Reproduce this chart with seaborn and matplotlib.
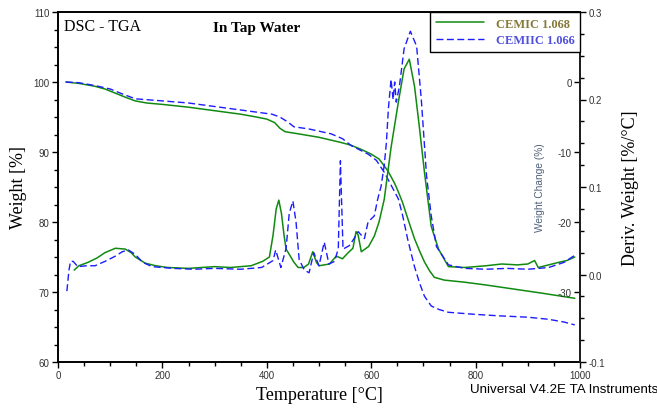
import numpy as np
import pandas as pd
import matplotlib
matplotlib.use("Agg")
import matplotlib.pyplot as plt
import seaborn as sns

# ---------------- data ----------------
series_names = ["CEMIC 1.068", "CEMIIC 1.066"]

# TGA (weight %) - CEMIC 1.068 (green)
tga_g_T = [15, 40, 70, 90, 110, 130, 148, 170, 200, 250, 300, 350, 380, 400, 415, 425, 435,
           460, 500, 540, 560, 580, 600, 615, 632, 645, 652, 660, 670, 683, 693, 702, 712,
           721, 740, 779, 820, 875, 930, 990]
tga_g_W = [100.0, 99.8, 99.4, 99.0, 98.4, 97.8, 97.3, 97.0, 96.8, 96.4, 95.9, 95.4, 95.0, 94.7,
           94.2, 93.4, 92.9, 92.6, 92.1, 91.4, 91.0, 90.4, 89.7, 89.0, 87.3, 85.5, 84.3, 82.8,
           80.5, 77.6, 75.8, 74.3, 73.0, 72.1, 71.7, 71.4, 71.0, 70.4, 69.8, 69.1]

# TGA (weight %) - CEMIIC 1.066 (blue)
tga_b_T = [15, 40, 70, 100, 123, 148, 200, 250, 300, 350, 380, 410, 425, 440, 452, 480, 523,
           545, 562, 594, 610, 625, 640, 652, 660, 670, 683, 693, 702, 715, 730, 748, 800, 844,
           900, 940, 970, 990]
tga_b_W = [100.0, 99.9, 99.5, 99.0, 98.3, 97.6, 97.3, 97.0, 96.5, 96.0, 95.7, 95.4, 95.0, 94.3,
           93.6, 93.3, 92.6, 91.9, 90.9, 89.7, 88.8, 87.1, 85.0, 83.3, 81.0, 77.5, 73.6, 71.2,
           69.4, 68.0, 67.5, 67.1, 66.8, 66.6, 66.4, 66.1, 65.7, 65.3]

# DTG (deriv. weight %/°C) - CEMIC 1.068 (green)
dtg_g_T = [31, 40, 58, 75, 90, 110, 129, 140, 148, 167, 187, 210, 250, 300, 330, 370, 392, 405,
           412, 418, 423, 428, 433, 437, 452, 460, 471, 480, 488, 495, 500, 520, 533, 545, 556,
           565, 571, 575, 581, 595, 606, 615, 625, 638, 652, 663, 673, 683, 692, 702, 715, 729,
           748, 779, 800, 820, 850, 880, 900, 913, 920, 940, 960, 975, 990]
dtg_g_D = [0.005, 0.010, 0.014, 0.019, 0.025, 0.030, 0.029, 0.025, 0.020, 0.013, 0.010, 0.008,
           0.007, 0.009, 0.008, 0.010, 0.015, 0.020, 0.045, 0.075, 0.085, 0.070, 0.045, 0.029,
           0.014, 0.008, 0.008, 0.012, 0.026, 0.014, 0.010, 0.012, 0.021, 0.018, 0.025, 0.030,
           0.049, 0.045, 0.026, 0.032, 0.044, 0.060, 0.086, 0.145, 0.197, 0.235, 0.246, 0.215,
           0.170, 0.117, 0.055, 0.029, 0.009, 0.008, 0.009, 0.010, 0.012, 0.011, 0.012, 0.016,
           0.008, 0.011, 0.014, 0.016, 0.020]

# DTG (deriv. weight %/°C) - CEMIIC 1.066 (blue)
dtg_b_T = [17, 21, 24, 29, 38, 55, 71, 90, 110, 123, 135, 148, 162, 180, 220, 260, 300, 350,
           390, 404, 412, 417, 421, 427, 437, 443, 450, 456, 462, 472, 481, 490, 500, 510, 519,
           530, 537, 541, 546, 558, 566, 575, 587, 594, 606, 612, 619, 625, 629, 633, 638, 642,
           645, 648, 654, 663, 675, 687, 696, 706, 715, 725, 748, 779, 820, 860, 900, 940, 970,
           990]
dtg_b_D = [-0.019, 0.005, 0.015, 0.015, 0.009, 0.010, 0.010, 0.015, 0.021, 0.026, 0.028, 0.023,
           0.014, 0.009, 0.007, 0.006, 0.007, 0.006, 0.008, 0.013, 0.016, 0.028, 0.020, 0.008,
           0.030, 0.070, 0.084, 0.060, 0.017, 0.005, 0.002, 0.025, 0.010, 0.037, 0.012, 0.015,
           0.030, 0.130, 0.029, 0.033, 0.040, 0.049, 0.041, 0.060, 0.067, 0.085, 0.101, 0.125,
           0.150, 0.190, 0.223, 0.200, 0.220, 0.197, 0.215, 0.258, 0.278, 0.261, 0.200, 0.113,
           0.067, 0.032, 0.011, 0.007, 0.006, 0.007, 0.006, 0.008, 0.014, 0.022]

x_ticks = [0, 200, 400, 600, 800, 1000]
w_ticks = [60, 70, 80, 90, 100, 110]
d_ticks = [-0.1, 0.0, 0.1, 0.2, 0.3]
d_tick_labels = ["-0.1", "0.0", "0.1", "0.2", "0.3"]
wc_ticks = [0, -10, -20, -30]

# ---------------- style ----------------
sns.set_theme(style="ticks")
plt.rcParams["font.family"] = ["Liberation Sans", "DejaVu Sans"]
SERIF = ["Liberation Serif", "DejaVu Serif"]
SANS = ["Liberation Sans", "DejaVu Sans"]
GREEN = "#118a11"
BLUE = "#1c1cff"
TICKC = "#333333"

fig = plt.figure(figsize=(6.57, 4.10), dpi=100)
ax = fig.add_axes([58 / 657, 1 - 363 / 410, 522 / 657, 350 / 410])
ax2 = ax.twinx()
ax3 = ax.twinx()

df_tg = pd.DataFrame({"T": tga_g_T, "W": tga_g_W})
df_tb = pd.DataFrame({"T": tga_b_T, "W": tga_b_W})
df_dg = pd.DataFrame({"T": dtg_g_T, "D": dtg_g_D})
df_db = pd.DataFrame({"T": dtg_b_T, "D": dtg_b_D})

sns.lineplot(data=df_tg, x="T", y="W", ax=ax, color=GREEN, linewidth=1.1, sort=False,
             estimator=None, legend=False)
sns.lineplot(data=df_tb, x="T", y="W", ax=ax, color=BLUE, linewidth=1.0, sort=False,
             estimator=None, legend=False, linestyle=(0, (5, 2.5)))
sns.lineplot(data=df_dg, x="T", y="D", ax=ax2, color=GREEN, linewidth=1.1, sort=False,
             estimator=None, legend=False)
sns.lineplot(data=df_db, x="T", y="D", ax=ax2, color=BLUE, linewidth=1.0, sort=False,
             estimator=None, legend=False, linestyle=(0, (5, 2.5)))

# main axes
ax.set_xlim(0, 1000)
ax.set_ylim(60, 110)
ax.set_xticks(x_ticks)
ax.set_xticks(np.arange(0, 1001, 50), minor=True)
ax.set_yticks(w_ticks)
ax.set_yticks(np.arange(60, 110.1, 2.5), minor=True)
ax.tick_params(axis="both", which="major", length=4, width=1, color="black",
               labelsize=7, labelcolor=TICKC, pad=2, direction="out")
ax.tick_params(axis="both", which="minor", length=3, width=1, color="black", direction="out")
ax.set_xlabel("Temperature [°C]", fontsize=13, family=SERIF, color="black", labelpad=4)
ax.set_ylabel("Weight [%]", fontsize=13, family=SERIF, color="black", labelpad=5)
for s in ax.spines.values():
    s.set_linewidth(1.2)
    s.set_color("black")

# derivative axis
ax2.set_ylim(-0.1, 0.3)
ax2.set_yticks(d_ticks)
ax2.set_yticklabels(d_tick_labels)
ax2.set_yticks(np.arange(-0.1, 0.3001, 0.025), minor=True)
ax2.tick_params(axis="y", which="major", length=4, width=1, color="black",
                labelsize=7, labelcolor=TICKC, pad=2, direction="out")
ax2.tick_params(axis="y", which="minor", length=3, width=1, color="black", direction="out")
ax2.set_ylabel("Deriv. Weight [%/°C]", fontsize=13, family=SERIF, color="black", labelpad=12)
for s in ax2.spines.values():
    s.set_linewidth(1.2)
    s.set_color("black")

# weight-change axis (inside, on the right spine)
ax3.set_ylim(-40, 10)
ax3.yaxis.tick_left()
ax3.yaxis.set_label_position("left")
ax3.spines["left"].set_position(("axes", 1.0))
for k in ["right", "top", "bottom"]:
    ax3.spines[k].set_visible(False)
ax3.spines["left"].set_linewidth(1.2)
ax3.set_yticks(wc_ticks)
ax3.set_yticklabels([str(v) for v in wc_ticks])
ax3.tick_params(axis="y", which="major", length=4, width=1, color="black",
                labelsize=7, labelcolor=TICKC, pad=2, direction="out")
ax3.set_ylabel("Weight Change (%)", fontsize=7.3, family=SANS, color="#4f5f78", labelpad=9)
ax3.patch.set_visible(False)

# legend
h1 = matplotlib.lines.Line2D([], [], color=GREEN, linewidth=1.1)
h2 = matplotlib.lines.Line2D([], [], color=BLUE, linewidth=1.0, linestyle=(0, (5, 2.5)))
leg = ax3.legend([h1, h2], series_names, loc="upper right", bbox_to_anchor=(1.0, 1.0),
                 borderaxespad=0, frameon=True, fancybox=False, framealpha=1,
                 edgecolor="black", handlelength=3.9, handletextpad=0.9,
                 labelspacing=0.35, borderpad=0.45,
                 prop={"family": SERIF, "weight": "bold", "size": 9})
leg.get_frame().set_linewidth(1.0)
leg.get_texts()[0].set_color("#86793a")
leg.get_texts()[1].set_color("#5050dd")

# titles / annotations
ax.text(0.012, 0.96, "DSC - TGA", transform=ax.transAxes, fontsize=11.5, family=SERIF,
        color="black", va="center", ha="left")
ax.text(0.297, 0.957, "In Tap Water", transform=ax.transAxes, fontsize=11, family=SERIF,
        weight="bold", color="black", va="center", ha="left")
fig.text(470 / 657, 1 - 390 / 410, "Universal V4.2E TA Instruments", fontsize=9.6,
         family=SANS, color="black", va="center", ha="left")

fig.savefig("out.png", dpi=100)
